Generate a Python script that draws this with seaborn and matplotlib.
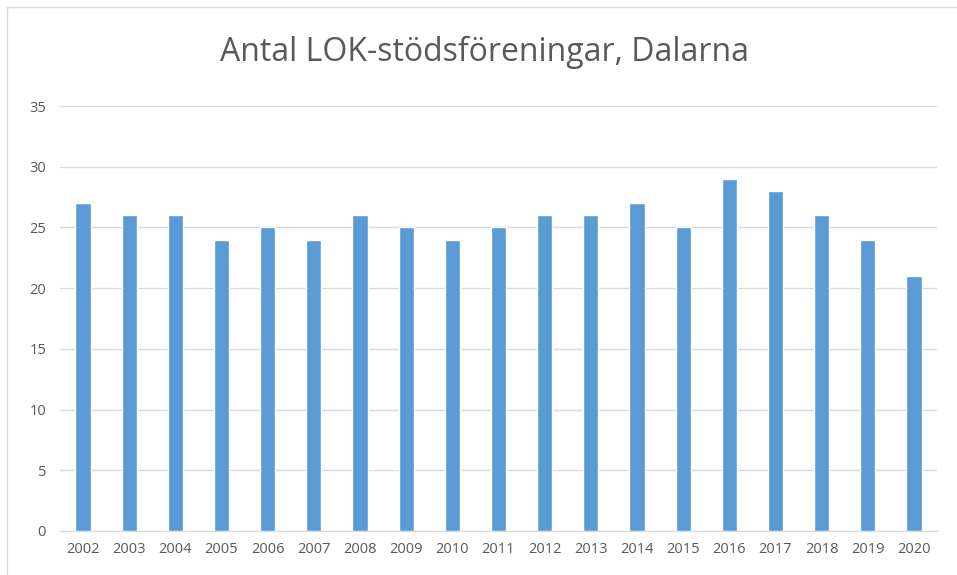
import matplotlib
matplotlib.use("Agg")
import matplotlib.pyplot as plt
import seaborn as sns
import pandas as pd
from matplotlib.patches import Rectangle

# data
years = ['2002', '2003', '2004', '2005', '2006', '2007', '2008', '2009', '2010', '2011',
         '2012', '2013', '2014', '2015', '2016', '2017', '2018', '2019', '2020']
antal = [27, 26, 26, 24, 25, 24, 26, 25, 24, 25, 26, 26, 27, 25, 29, 28, 26, 24, 21]
yticks = [0, 5, 10, 15, 20, 25, 30, 35]

df = pd.DataFrame({'year': years, 'antal': antal})

sns.set_style('white')
plt.rcParams['font.family'] = ['Open Sans', 'DejaVu Sans']

fig = plt.figure(figsize=(9.57, 5.75), dpi=100)
ax = fig.add_axes([60 / 957, 1 - 531 / 575, 877 / 957, 425 / 575])

sns.barplot(data=df, x='year', y='antal', color='#5B9BD5', saturation=1, width=0.33, ax=ax)

ax.set_ylim(0, 35)
ax.set_xlim(-0.5, len(years) - 0.5)
ax.set_yticks(yticks)
ax.yaxis.grid(True, color='#D9D9D9', linewidth=1)
ax.set_axisbelow(True)
for s in ['top', 'right', 'left']:
    ax.spines[s].set_visible(False)
ax.spines['bottom'].set_color('#D9D9D9')
ax.tick_params(axis='both', length=0, labelsize=10.5, labelcolor='#595959')
ax.tick_params(axis='y', pad=10)
ax.tick_params(axis='x', pad=8)
ax.set_xlabel('')
ax.set_ylabel('')

fig.text(485 / 957, 1 - 52 / 575, 'Antal LOK-stödsföreningar, Dalarna', ha='center', va='center',
         fontsize=23, color='#595959')

# chart border (cropped)
fig.patches.append(Rectangle((7 / 957, -0.1), 1.2, 1 - 7 / 575 + 0.1, transform=fig.transFigure,
                             fill=False, edgecolor='#D9D9D9', linewidth=1))

fig.savefig('out.png', dpi=100)
